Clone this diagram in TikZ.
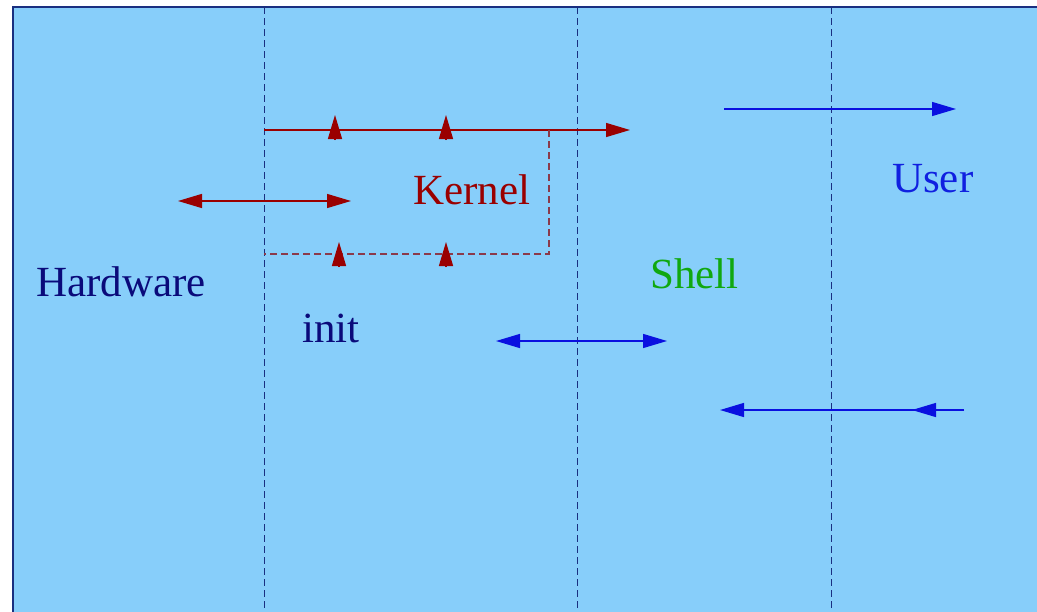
\documentclass[tikz,border=0pt]{standalone}
\usepackage{fontspec}
\setmainfont{Liberation Serif}
\usepackage{tikz}
\usetikzlibrary{arrows.meta}
\usepackage{xcolor}
\definecolor{skycol}{HTML}{87CEFA}
\definecolor{framecol}{HTML}{1A2F80}
\definecolor{hwcol}{HTML}{0A0A7A}
\definecolor{kerncol}{HTML}{9A0000}
\definecolor{boxcol}{HTML}{8B3A4A}
\definecolor{shellcol}{HTML}{10A810}
\definecolor{usercol}{HTML}{1020E0}
\definecolor{arrowcol}{HTML}{0A10E0}

\begin{document}
\begin{tikzpicture}[x=1pt, y=-1pt, >={Triangle[length=24pt, width=14pt]},
      every node/.style={font=\fontsize{43}{50}\selectfont, inner sep=0pt, anchor=base west},
      divider/.style={draw=framecol, dash pattern=on 7pt off 4pt, line width=1pt},
      kline/.style={draw=kerncol, fill=kerncol, line width=1.3pt},
      uline/.style={draw=arrowcol, fill=arrowcol, line width=1.3pt}]
    \useasboundingbox (0,0) rectangle (1037,611);
    \clip (0,0) rectangle (1037,611);
    % panel
    \fill[skycol] (13,7) rectangle (1045,620);
    \draw[framecol, line width=2pt] (13,620) -- (13,7) -- (1045,7);
    \foreach \x in {264,577,831}
      \draw[divider] (\x,7) -- (\x,620);
    % layer names
    \node[text=hwcol] (hw) at (36,296) {Hardware};
    \node[text=hwcol] (init) at (302,342) {init};
    \node[text=kerncol] (kern) at (413,204) {Kernel};
    \node[text=shellcol] (shell) at (650,288) {Shell};
    \node[text=usercol] (user) at (892,192) {User};
    % kernel
    \coordinate (ktop) at (264,130);
    \coordinate (kout) at (630,130);
    \coordinate (kcorner) at (549,130);
    \coordinate (kbot) at (264,254);
    \draw[kline, ->] (ktop) -- (kout);
    \draw[boxcol, dash pattern=on 7pt off 4pt, line width=1.1pt] (kcorner) -- (kcorner |- kbot) -- (kbot);
    \foreach \x in {335,446}
      \draw[kline, ->] (\x,140) -- (\x,115);
    \foreach \x in {339,446}
      \draw[kline, ->] (\x,267) -- (\x,242);
    \coordinate (hwl) at (178,201);
    \coordinate (hwr) at (351,201);
    \draw[kline, <->] (hwl) -- (hwr);
    % shell and user
    \coordinate (u1) at (724,109);
    \coordinate (u2) at (956,109);
    \draw[uline, ->] (u1) -- (u2);
    \coordinate (s1) at (496,341);
    \coordinate (s2) at (667,341);
    \draw[uline, <->] (s1) -- (s2);
    \coordinate (r1) at (964,410);
    \coordinate (r2) at (720,410);
    \draw[uline, ->] (r1) -- (r2);
    \draw[uline, ->] (937,410) -- (912,410);
  \end{tikzpicture}
\end{document}
